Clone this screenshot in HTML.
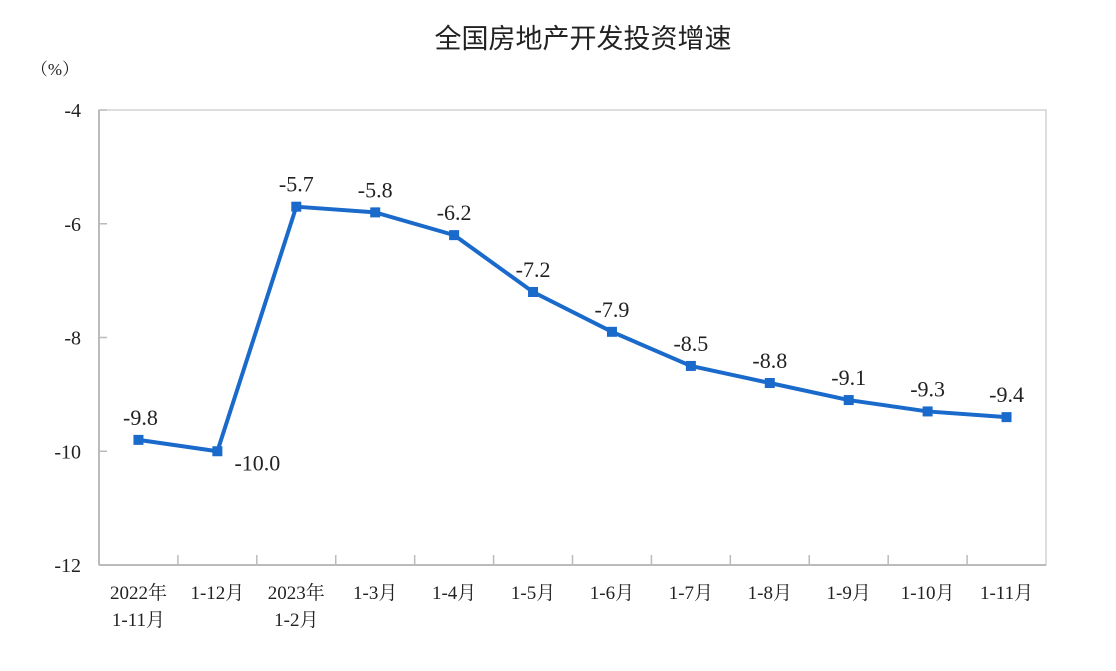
<!DOCTYPE html>
<html><head><meta charset="utf-8"><style>
body{margin:0;background:#fff;}
svg text{font-family:"Liberation Serif","Noto Serif CJK SC",serif;fill:#222;}
</style></head><body>
<svg width="1116" height="666" viewBox="0 0 1116 666">
<text x="583" y="48" text-anchor="middle" font-size="27" style="font-family:'Liberation Sans','Noto Sans CJK SC',sans-serif">全国房地产开发投资增速</text>
<text x="55" y="75" text-anchor="middle" font-size="17">（%）</text>
<rect x="99" y="110" width="947" height="455" fill="none" stroke="#c8c8c8" stroke-width="1.2"/>
<g id="axes"></g>
<g id="marks"></g>
</svg>
<script>
const categories=[["2022年","1-11月"],["1-12月"],["2023年","1-2月"],["1-3月"],["1-4月"],["1-5月"],["1-6月"],["1-7月"],["1-8月"],["1-9月"],["1-10月"],["1-11月"]];
const values=[-9.8,-10.0,-5.7,-5.8,-6.2,-7.2,-7.9,-8.5,-8.8,-9.1,-9.3,-9.4];
const valueLabels=["-9.8","-10.0","-5.7","-5.8","-6.2","-7.2","-7.9","-8.5","-8.8","-9.1","-9.3","-9.4"];
const yTicks=[-4,-6,-8,-10,-12];
const L=99,R=1046,T=110,B=565,yMin=-12,yMax=-4;
const NS="http://www.w3.org/2000/svg";
const bw=(R-L)/categories.length;
const x=i=>L+bw*(i+0.5);
const y=v=>B-(v-yMin)/(yMax-yMin)*(B-T);
function mk(tag,attrs,parent){const e=document.createElementNS(NS,tag);for(const k in attrs)e.setAttribute(k,attrs[k]);parent.appendChild(e);return e;}
const ax=document.getElementById('axes'),mg=document.getElementById('marks');
let a=mk('line',{x1:L,y1:T,x2:L,y2:B,stroke:'#bbb','stroke-width':2},ax);


a=mk('line',{x1:L,y1:B,x2:R,y2:B,stroke:'#bbb','stroke-width':2},ax);


yTicks.forEach(v=>{
  const t=mk('line',{x1:L,y1:y(v),x2:L+8,y2:y(v),stroke:'#bbb','stroke-width':1.5},ax);
  
  
  const l=mk('text',{x:L-18,y:y(v)+7,'text-anchor':'end','font-size':20},ax);
  l.textContent=v;
  
  
});
categories.forEach((c,i)=>{
  if(i>0){const t=mk('line',{x1:L+bw*i,y1:B,x2:L+bw*i,y2:B-10,stroke:'#bbb','stroke-width':1.5},ax);
  
  }
  c.forEach((s,j)=>{const l=mk('text',{x:x(i),y:B+34+j*27,'text-anchor':'middle','font-size':19},ax);
  l.textContent=s;
  
  });
});
const p=mk('polyline',{points:values.map((v,i)=>x(i)+','+y(v)).join(' '),fill:'none',stroke:'#1a6acb','stroke-width':4,'stroke-linejoin':'round'},mg);


values.forEach((v,i)=>{
  const m=mk('rect',{x:x(i)-5,y:y(v)-5,width:10,height:10,fill:'#1a6acb'},mg);
  
  
  const below=i===1;
  const t=mk('text',{x:below?x(i)+40:x(i)+(i===0?2:0),y:below?y(v)+19:y(v)-15,'text-anchor':'middle','font-size':22},mg);
  t.textContent=valueLabels[i];
  
  
});
</script>
</body></html>
